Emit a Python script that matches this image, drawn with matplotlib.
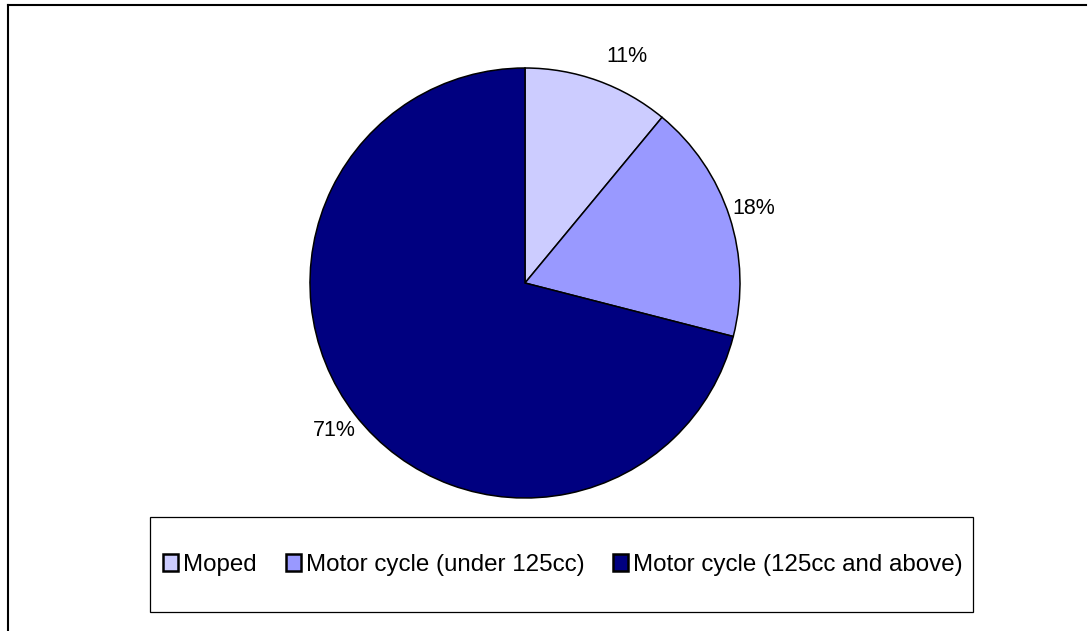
import matplotlib
matplotlib.use('Agg')
from matplotlib import pyplot as plt
from matplotlib.patches import Rectangle
from matplotlib.lines import Line2D

plt.rcParams['font.family'] = ['Liberation Sans', 'DejaVu Sans']

# data
categories = ['Moped', 'Motor cycle (under 125cc)', 'Motor cycle (125cc and above)']
shares = [11, 18, 71]
colors = ['#CCCCFF', '#9999FF', '#000080']

W, H = 1091, 631
fig = plt.figure(figsize=(W / 100, H / 100), dpi=100)

# pie axes: centre (525, 283), radius 215 px
cx, cy, r = 525, 283, 215
ax = fig.add_axes([(cx - r) / W, (H - cy - r) / H, 2 * r / W, 2 * r / H])
wedges, texts, autotexts = ax.pie(shares, colors=colors, startangle=90, counterclock=False,
                                  autopct='%1.0f%%', pctdistance=1.12,
                                  wedgeprops=dict(edgecolor='black', linewidth=1.1),
                                  textprops=dict(fontsize=15.5, color='black'))
# excel nudges the small top label to the right
autotexts[0].set_ha('left')
ax.set_xlim(-1, 1)
ax.set_ylim(-1, 1)
ax.set_aspect('equal')
ax.axis('off')

# legend box
fig.patches.append(Rectangle((150 / W, 1 - 612 / H), (973 - 150) / W, (612 - 517) / H,
                             transform=fig.transFigure, fill=False, edgecolor='black',
                             linewidth=0.9))
leg = fig.legend(wedges, categories, loc='center', bbox_to_anchor=(563 / W, 1 - 565 / H), ncol=3,
                 frameon=False, fontsize=17.4, handlelength=0.62, handleheight=0.7,
                 handletextpad=0.2, columnspacing=1.2)
for h in leg.legend_handles:
    h.set_linewidth(1.8)

# outer chart border (left and top edges only visible)
fig.lines.append(Line2D([7.5 / W, 7.5 / W], [0, 1 - 4.5 / H], transform=fig.transFigure,
                        color='black', linewidth=1.5))
fig.lines.append(Line2D([7.5 / W, 1086 / W], [1 - 4.5 / H, 1 - 4.5 / H], transform=fig.transFigure,
                        color='black', linewidth=1.5))

fig.savefig('out.png', dpi=100)
